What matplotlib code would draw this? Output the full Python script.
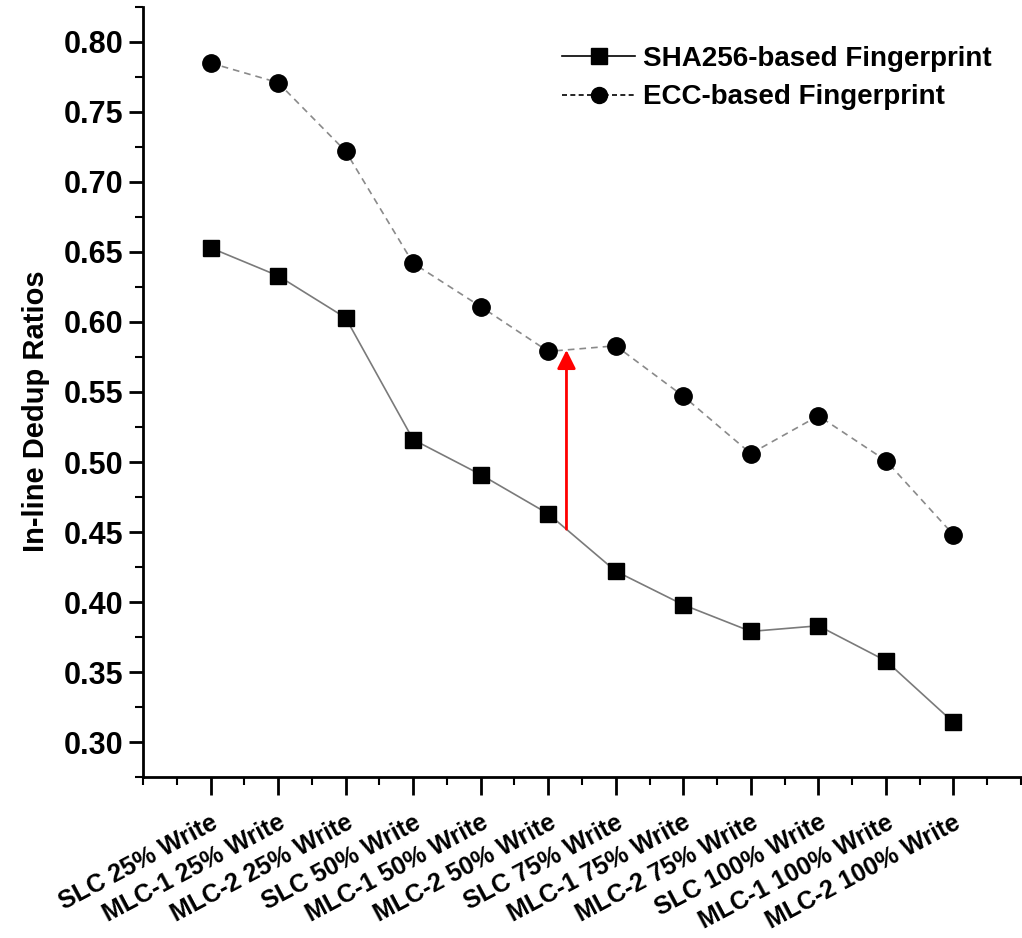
import numpy as np
import matplotlib.pyplot as plt
from matplotlib.lines import Line2D
from matplotlib.ticker import MultipleLocator

plt.rcParams['font.family'] = ['Liberation Sans', 'DejaVu Sans']

# 数据
categories = ['SLC 25% Write', 'MLC-1 25% Write', 'MLC-2 25% Write',
              'SLC 50% Write', 'MLC-1 50% Write', 'MLC-2 50% Write',
              'SLC 75% Write', 'MLC-1 75% Write', 'MLC-2 75% Write',
              'SLC 100% Write', 'MLC-1 100% Write', 'MLC-2 100% Write']
sha256_ratio = [0.653, 0.633, 0.603, 0.516, 0.491, 0.463,
                0.422, 0.398, 0.379, 0.383, 0.358, 0.314]
ecc_ratio = [0.785, 0.771, 0.722, 0.642, 0.611, 0.579,
             0.583, 0.547, 0.506, 0.533, 0.501, 0.448]
arrow_x = 6.27
arrow_from = 0.452
arrow_to = 0.580

x = np.arange(1, len(categories) + 1)

fig = plt.figure(figsize=(10.22, 9.38), dpi=100)
ax = fig.add_axes([143 / 1022, 1 - 777 / 938, 878 / 1022, 770 / 938])

ax.plot(x, sha256_ratio, color='#7a7a7a', lw=1.2, ls='-',
        marker='s', ms=11.5, mfc='black', mec='black')
ax.plot(x, ecc_ratio, color='#8a8a8a', lw=1.2, ls=(0, (4, 3)),
        marker='o', ms=12.5, mfc='black', mec='black')

# 红色箭头
ax.annotate('', xy=(arrow_x, arrow_to), xytext=(arrow_x, arrow_from),
            arrowprops=dict(arrowstyle='-|>', color='red', lw=2,
                            mutation_scale=28, shrinkA=0, shrinkB=0))

ax.set_xlim(0, 13)
ax.set_ylim(0.275, 0.825)
ax.set_xticks(x)
ax.set_xticklabels(categories, rotation=28, ha='right', va='top',
                   rotation_mode='anchor', fontsize=18, fontweight='bold')
ax.xaxis.set_minor_locator(MultipleLocator(0.5))
ax.yaxis.set_major_locator(MultipleLocator(0.05))
ax.yaxis.set_minor_locator(MultipleLocator(0.025))
ax.yaxis.set_major_formatter(plt.FormatStrFormatter('%.2f'))
for lab in ax.get_yticklabels():
    lab.set_fontsize(22)
    lab.set_fontweight('bold')

ax.tick_params(axis='both', which='major', direction='out', length=10, width=2)
ax.tick_params(axis='both', which='minor', direction='out', length=6, width=1.5)
ax.tick_params(axis='x', which='major', length=13, pad=11)
ax.tick_params(axis='y', which='major', pad=4)

for s in ['top', 'right']:
    ax.spines[s].set_visible(False)
for s in ['left', 'bottom']:
    ax.spines[s].set_linewidth(2)

ax.set_ylabel('In-line Dedup Ratios', fontsize=21, fontweight='bold')
ax.yaxis.set_label_coords(-0.106, 0.475)

handles = [Line2D([], [], color='black', lw=1.2, ls='-', marker='s', ms=11.5),
           Line2D([], [], color='black', lw=1.2, ls=(0, (3, 2)), marker='o', ms=11.5)]
ax.legend(handles, ['SHA256-based Fingerprint', 'ECC-based Fingerprint'],
          loc='upper right', bbox_to_anchor=(0.995, 0.982), frameon=False,
          prop={'size': 20, 'weight': 'bold'}, handlelength=2.6,
          handletextpad=0.3, labelspacing=0.45)

fig.savefig('out.png', dpi=100)
